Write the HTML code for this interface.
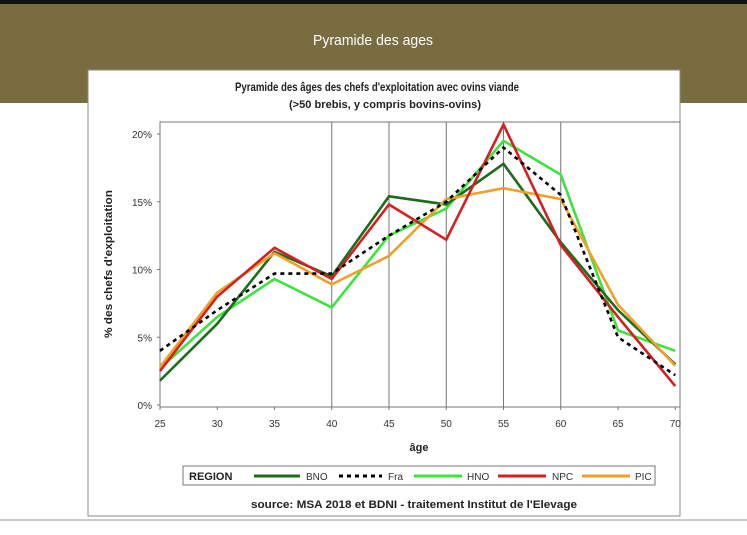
<!DOCTYPE html>
<html><head><meta charset="utf-8"><style>
body{margin:0;width:747px;height:530px;overflow:hidden;background:#fff;font-family:"Liberation Sans",sans-serif}
</style></head><body>
<svg id="s" width="747" height="530" xmlns="http://www.w3.org/2000/svg">
<rect x="0" y="0" width="747" height="530" fill="#fff"/>
<rect x="0" y="0" width="747" height="4" fill="#111"/>
<rect x="0" y="4" width="747" height="99" fill="#7a6c41"/>
<text x="373" y="45" text-anchor="middle" fill="#fff" font-size="15" textLength="120" lengthAdjust="spacingAndGlyphs">Pyramide des ages</text>
<rect x="88" y="70" width="592" height="446" fill="#fff" stroke="#888" stroke-width="1"/>
<line x1="0" y1="520" x2="747" y2="520" stroke="#999" stroke-width="1"/>
<text x="235" y="91" font-size="12" font-weight="bold" fill="#222" textLength="284" lengthAdjust="spacingAndGlyphs">Pyramide des âges des chefs d'exploitation avec ovins viande</text>
<text x="289" y="108" font-size="11" font-weight="bold" fill="#222" textLength="192" lengthAdjust="spacingAndGlyphs">(&gt;50 brebis, y compris bovins-ovins)</text>
<rect x="160" y="122" width="520" height="285" fill="none" stroke="#777" stroke-width="1"/>
<g id="grid" stroke="#777" stroke-width="1"></g>
<g id="ax" font-size="10" fill="#333"></g>
<text x="112" y="264" transform="rotate(-90 112 264)" text-anchor="middle" font-size="11" font-weight="bold" fill="#222" textLength="148" lengthAdjust="spacingAndGlyphs">% des chefs d'exploitation</text>
<text x="419" y="451" text-anchor="middle" font-size="11" font-weight="bold" fill="#222">âge</text>
<g id="lines" fill="none" stroke-width="2.6" stroke-linejoin="miter"></g>
<rect x="183" y="466" width="472" height="19" fill="#fff" stroke="#777"/>
<text x="189" y="480" font-size="11" font-weight="bold" fill="#222">REGION</text>
<line x1="254" y1="476" x2="300" y2="476" stroke="#1d6b1d" stroke-width="3"/>
<text x="306" y="480" font-size="10" fill="#333">BNO</text>
<line x1="339" y1="476" x2="382" y2="476" stroke="#000" stroke-width="3" stroke-dasharray="4,4"/>
<text x="388" y="480" font-size="10" fill="#333">Fra</text>
<line x1="414" y1="476" x2="462" y2="476" stroke="#3ee33e" stroke-width="3"/>
<text x="467" y="480" font-size="10" fill="#333">HNO</text>
<line x1="498" y1="476" x2="546" y2="476" stroke="#d42020" stroke-width="3"/>
<text x="552" y="480" font-size="10" fill="#333">NPC</text>
<line x1="582" y1="476" x2="630" y2="476" stroke="#f0a028" stroke-width="3"/>
<text x="635" y="480" font-size="10" fill="#333">PIC</text>
<text x="251" y="508" font-size="11" font-weight="bold" fill="#222" textLength="326" lengthAdjust="spacingAndGlyphs">source: MSA 2018 et BDNI - traitement Institut de l'Elevage</text>
</svg>
<script>
var X=a=>160+(a-25)*11.45, Y=p=>405-p*13.55, NS="http://www.w3.org/2000/svg";
function el(t,at,par,txt){var e=document.createElementNS(NS,t);for(var k in at)e.setAttribute(k,at[k]);if(txt)e.textContent=txt;document.getElementById(par).appendChild(e);}
[40,45,50,55,60].forEach(a=>el('line',{x1:X(a),x2:X(a),y1:122,y2:407},'grid'));
for(var a=25;a<=70;a+=5){el('line',{x1:X(a),x2:X(a),y1:407,y2:410,stroke:'#777'},'grid');el('text',{x:X(a),y:427,'text-anchor':'middle'},'ax',''+a);}
[0,5,10,15,20].forEach(p=>{el('line',{x1:157,x2:160,y1:Y(p),y2:Y(p),stroke:'#777'},'grid');el('text',{x:152,y:Y(p)+4,'text-anchor':'end'},'ax',p+'%');});
var ages=[25,30,35,40,45,50,55,60,65,70];
var S=[
['#3ee33e',[2.7,6.5,9.3,7.2,12.5,14.5,19.5,17,5.5,4],''],
['#1d6b1d',[1.8,6,11.3,9.5,15.4,14.8,17.8,12,7,3],''],
['#f0a028',[2.8,8.3,11.2,8.9,11,15.2,16,15.2,7.4,2.9],''],
['#d42020',[2.5,8,11.6,9.3,14.8,12.2,20.7,11.8,6.5,1.4],''],
['#000',[4,7,9.7,9.7,12.5,15,19,15.5,5,2.2],'4,4']];
S.forEach(s=>{var pts=ages.map((a,i)=>X(a)+','+Y(s[1][i])).join(' ');var o={points:pts,stroke:s[0]};if(s[2])o['stroke-dasharray']=s[2];el('polyline',o,'lines');});
</script>
</body></html>
